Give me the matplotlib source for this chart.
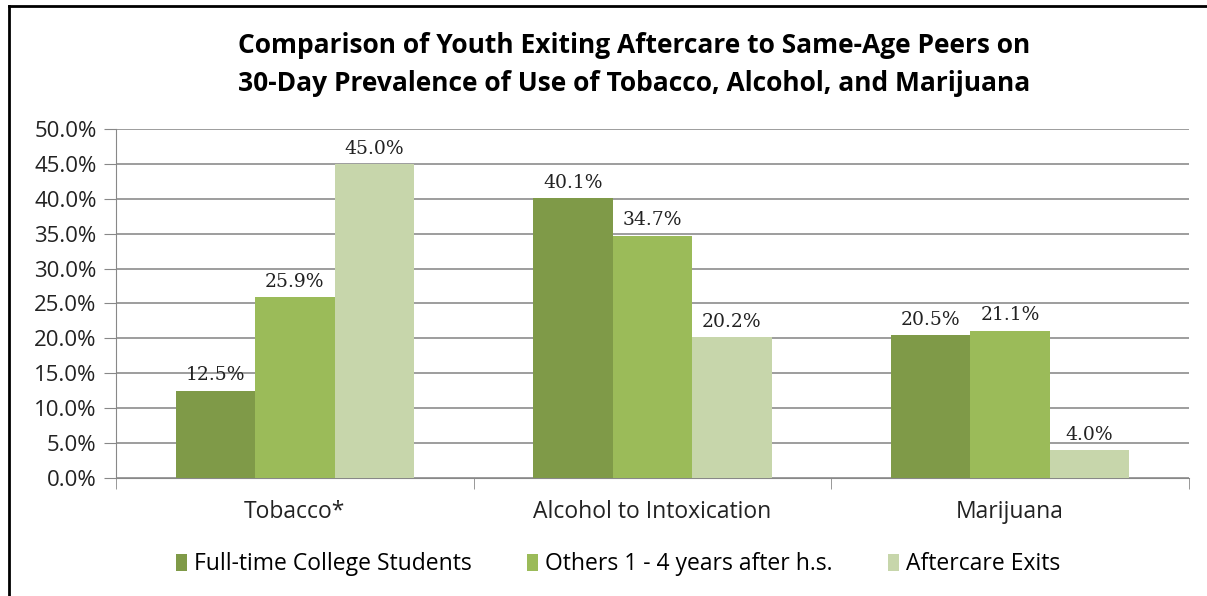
import matplotlib.pyplot as plt
from matplotlib.lines import Line2D
import numpy as np

categories = ["Tobacco*", "Alcohol to Intoxication", "Marijuana"]
series_names = ["Full-time College Students", "Others 1 - 4 years after h.s.", "Aftercare Exits"]
college = [12.5, 40.1, 20.5]
others = [25.9, 34.7, 21.1]
aftercare = [45.0, 20.2, 4.0]
colors = ["#7F9A48", "#9BBB59", "#C7D6AB"]
y_ticks = [0, 5, 10, 15, 20, 25, 30, 35, 40, 45, 50]

plt.rcParams['font.family'] = ['Open Sans', 'DejaVu Sans']

fig = plt.figure(figsize=(12.07, 5.96), dpi=100)
ax = fig.add_axes([0.0961, 0.198, 0.8889, 0.5856])

x = np.arange(len(categories))
w = 0.222
for i, (vals, name) in enumerate(zip([college, others, aftercare], series_names)):
    bars = ax.bar(x + (i - 1) * w, vals, w, color=colors[i], label=name, zorder=3)
    for b, v in zip(bars, vals):
        ax.text(b.get_x() + b.get_width() / 2, v + 0.9, f"{v:.1f}%",
                ha="center", va="bottom", fontsize=13.5, family="DejaVu Serif",
                color="#222222")

ax.set_xlim(-0.5, 2.5)
ax.set_ylim(0, 50)
ax.set_yticks(y_ticks)
ax.set_yticklabels([f"{t:.1f}%" for t in y_ticks], fontsize=16, color="#222222")
ax.set_xticks(x)
ax.set_xticklabels(categories, fontsize=16.5, color="#222222")
ax.set_xticks([-0.5, 0.5, 1.5, 2.5], minor=True)
ax.tick_params(axis="x", which="major", length=0, pad=16)
ax.tick_params(axis="x", which="minor", length=8, color="#888888")
ax.tick_params(axis="y", length=9, color="#888888", pad=5)

ax.grid(axis="y", color="#8C8C8C", linewidth=1.2, zorder=0)
for s in ["top", "right"]:
    ax.spines[s].set_visible(False)
ax.spines["left"].set_color("#888888")
ax.spines["bottom"].set_color("#888888")

fig.suptitle("Comparison of Youth Exiting Aftercare to Same-Age Peers on\n"
             "30-Day Prevalence of Use of Tobacco, Alcohol, and Marijuana",
             x=0.525, y=0.946, fontsize=19, fontweight="bold", linespacing=1.5)

fig.legend(loc="center", bbox_to_anchor=(0.512, 0.053), ncol=3, frameon=False,
           fontsize=16.5, handlelength=0.5, handleheight=0.75, handletextpad=0.3,
           columnspacing=2.4)

# outer chart frame (left and top edges visible)
fig.add_artist(Line2D([0.0075, 0.0075], [0, 0.99], transform=fig.transFigure,
                      color="black", linewidth=2))
fig.add_artist(Line2D([0.0075, 1.0], [0.99, 0.99], transform=fig.transFigure,
                      color="black", linewidth=2))

fig.savefig("out.png", dpi=100)
